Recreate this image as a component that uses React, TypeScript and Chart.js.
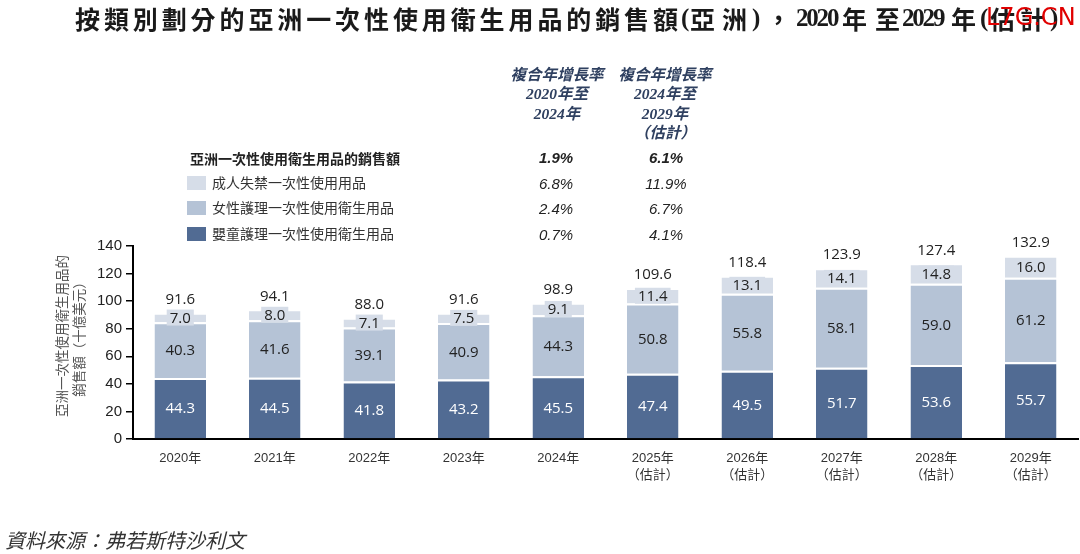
import React, { useEffect, useRef } from "react";
import { Chart, registerables } from "chart.js";

Chart.register(...registerables);

const categories: (string | string[])[] = [
  "2020年", "2021年", "2022年", "2023年", "2024年",
  ["2025年", "（估計）"], ["2026年", "（估計）"], ["2027年", "（估計）"], ["2028年", "（估計）"], ["2029年", "（估計）"],
];
const babyValues = [44.3, 44.5, 41.8, 43.2, 45.5, 47.4, 49.5, 51.7, 53.6, 55.7];
const femaleValues = [40.3, 41.6, 39.1, 40.9, 44.3, 50.8, 55.8, 58.1, 59.0, 61.2];
const adultValues = [7.0, 8.0, 7.1, 7.5, 9.1, 11.4, 13.1, 14.1, 14.8, 16.0];
const totalValues = [91.6, 94.1, 88.0, 91.6, 98.9, 109.6, 118.4, 123.9, 127.4, 132.9];

const seriesNames = ["成人失禁一次性使用用品", "女性護理一次性使用衛生用品", "嬰童護理一次性使用衛生用品"];
const cagr2020to2024 = ["6.8%", "2.4%", "0.7%"];
const cagr2024to2029 = ["11.9%", "6.7%", "4.1%"];
const totalCagr = ["1.9%", "6.1%"];

const C_DARK = "#516b93";
const C_MID = "#b5c3d6";
const C_LIGHT = "#d6dde8";
const legendColors = [C_LIGHT, C_MID, C_DARK];

const labelFont = "'Open Sans', 'Noto Sans', sans-serif";

const labelPlugin = {
  id: "segLabels",
  afterDatasetsDraw(chart: any) {
    const ctx = chart.ctx;
    ctx.save();
    ctx.font = `15px ${labelFont}`;
    ctx.textAlign = "center";
    ctx.textBaseline = "middle";
    chart.data.datasets.forEach((ds: any, di: number) => {
      const meta = chart.getDatasetMeta(di);
      meta.data.forEach((el: any, i: number) => {
        const p = el.getProps(["x", "y", "base"], true);
        const cy = (p.y + p.base) / 2;
        const txt = Number(ds.data[i]).toFixed(1);
        if (di === 2) {
          const w = ctx.measureText(txt).width + 6;
          ctx.fillStyle = C_LIGHT;
          ctx.fillRect(p.x - w / 2, cy - 8, w, 16);
        }
        ctx.fillStyle = di === 0 ? "#ffffff" : "#222222";
        ctx.fillText(txt, p.x, cy + 1);
        if (di === 2) {
          ctx.fillStyle = "#222222";
          ctx.fillText(totalValues[i].toFixed(1), p.x, p.y - 13);
        }
      });
    });
    ctx.restore();
  },
};

const titleCJK = "'Noto Sans CJK TC', sans-serif";
const titleNum = "'Liberation Serif', 'Times New Roman', serif";

function TitlePiece(props: { left: number; text: string; ls?: number; num?: boolean }) {
  return (
    <span style={{
      position: "absolute", left: props.left, top: 3, lineHeight: "30px", fontSize: 25, fontWeight: 700,
      fontFamily: props.num ? titleNum : titleCJK, letterSpacing: props.ls ?? 0, color: "#1a1a1a", whiteSpace: "nowrap",
    }}>{props.text}</span>
  );
}

export default function App() {
  const ref = useRef<HTMLCanvasElement | null>(null);
  useEffect(() => {
    document.body.style.margin = "0";
    if (!ref.current) return;
    const seg = { top: 2, bottom: 0, left: 0, right: 0 };
    const chart = new Chart(ref.current, {
      type: "bar",
      data: {
        labels: categories as any,
        datasets: [
          { label: seriesNames[2], data: babyValues, backgroundColor: C_DARK, borderColor: "#fff", borderWidth: seg, borderSkipped: false } as any,
          { label: seriesNames[1], data: femaleValues, backgroundColor: C_MID, borderColor: "#fff", borderWidth: seg, borderSkipped: false } as any,
          { label: seriesNames[0], data: adultValues, backgroundColor: C_LIGHT, borderColor: "#fff", borderWidth: seg, borderSkipped: false } as any,
        ],
      },
      options: {
        animation: false,
        responsive: false,
        maintainAspectRatio: false,
        layout: { padding: { top: 246, right: 2, left: 0, bottom: 0 } },
        datasets: { bar: { barPercentage: 0.545, categoryPercentage: 1 } },
        plugins: { legend: { display: false }, tooltip: { enabled: false } },
        scales: {
          x: {
            stacked: true,
            grid: { display: false },
            border: { display: true, color: "#000", width: 2 },
            ticks: { font: { size: 13, family: "'Liberation Sans', 'Noto Sans CJK TC', sans-serif", lineHeight: 1.3 }, color: "#333", padding: 3, maxRotation: 0 },
            afterFit: (s: any) => { s.height = 115; },
          },
          y: {
            stacked: true,
            min: 0,
            max: 140,
            ticks: { stepSize: 20, font: { size: 15, family: "'Liberation Sans', Arial, sans-serif" }, color: "#222", padding: 4 },
            grid: { drawOnChartArea: false, drawTicks: true, tickLength: 7, color: "#000", lineWidth: 1.5 },
            border: { color: "#000", width: 2 },
            afterFit: (s: any) => { s.width = 133; },
          },
        },
      },
      plugins: [labelPlugin],
    });
    return () => chart.destroy();
  }, []);

  const headFont = "'Liberation Serif', 'Noto Sans CJK TC', serif";
  const headStyle: React.CSSProperties = {
    position: "absolute", width: 130, textAlign: "center", fontFamily: headFont,
    fontWeight: 700, fontStyle: "italic", fontSize: 15.5, lineHeight: "19.3px", color: "#2f4060",
  };
  const rowTop = [158, 183, 208, 234];
  const pctStyle = (cx: number, y: number, bold: boolean): React.CSSProperties => ({
    position: "absolute", left: cx - 50, width: 100, top: y - 10, lineHeight: "20px", textAlign: "center",
    fontFamily: "'Liberation Sans', Arial, sans-serif", fontStyle: "italic", fontWeight: bold ? 700 : 400,
    fontSize: 15, color: "#222",
  });

  return (
    <div style={{ position: "relative", width: 1080, height: 554, background: "#fff", overflow: "hidden" }}>
      <canvas ref={ref} width={1080} height={554} style={{ position: "absolute", left: 0, top: 0 }} />

      <TitlePiece left={75} text="按類別劃分的亞洲一次性使用衛生用品的銷售額" ls={3.9} />
      <TitlePiece left={681} text="(" num />
      <TitlePiece left={690} text="亞洲" ls={7} />
      <TitlePiece left={752} text=")" num />
      <TitlePiece left={766} text="，" />
      <TitlePiece left={796} text="2020" num ls={-2.2} />
      <TitlePiece left={842} text="年" />
      <TitlePiece left={875} text="至" />
      <TitlePiece left={902} text="2029" num ls={-2.2} />
      <TitlePiece left={951} text="年" />
      <TitlePiece left={980} text="(" num />
      <TitlePiece left={990} text="估計" ls={5} />
      <TitlePiece left={1050} text=")" num />
      <div style={{ position: "absolute", left: 986, top: 2, fontFamily: "'DejaVu Sans', sans-serif", fontWeight: 400, fontSize: 24, lineHeight: "30px", color: "#e00000", whiteSpace: "nowrap" }}>
        L7G.CN
      </div>

      <div style={{ ...headStyle, left: 557 - 65, top: 65 }}>
        <div>複合年增長率</div><div>2020年至</div><div>2024年</div>
      </div>
      <div style={{ ...headStyle, left: 665 - 65, top: 65 }}>
        <div>複合年增長率</div><div>2024年至</div><div>2029年</div><div>（估計）</div>
      </div>

      <div style={{ position: "absolute", left: 190, top: rowTop[0] - 10, lineHeight: "20px", fontFamily: "'Noto Sans CJK TC', sans-serif", fontWeight: 700, fontSize: 14, color: "#222" }}>
        亞洲一次性使用衛生用品的銷售額
      </div>
      <div style={pctStyle(556, rowTop[0], true)}>{totalCagr[0]}</div>
      <div style={pctStyle(666, rowTop[0], true)}>{totalCagr[1]}</div>
      {seriesNames.map((n, i) => (
        <React.Fragment key={n}>
          <div style={{ position: "absolute", left: 187, top: rowTop[i + 1] - 7, width: 19, height: 14, background: legendColors[i] }} />
          <div style={{ position: "absolute", left: 212, top: rowTop[i + 1] - 11, lineHeight: "20px", fontFamily: "'Noto Sans CJK TC', sans-serif", fontSize: 14, color: "#333" }}>{n}</div>
          <div style={pctStyle(556, rowTop[i + 1] + 1, false)}>{cagr2020to2024[i]}</div>
          <div style={pctStyle(666, rowTop[i + 1] + 1, false)}>{cagr2024to2029[i]}</div>
        </React.Fragment>
      ))}

      <div style={{ position: "absolute", left: 71 - 90, top: 336 - 18, width: 180, height: 36, transform: "rotate(-90deg)", transformOrigin: "90px 18px", textAlign: "center", fontFamily: "'Noto Sans CJK TC', sans-serif", fontSize: 13.5, lineHeight: "17px", color: "#555", whiteSpace: "nowrap" }}>
        <div>亞洲一次性使用衛生用品的</div><div>銷售額（十億美元）</div>
      </div>

      <div style={{ position: "absolute", left: 5, top: 527, lineHeight: "26px", fontFamily: "'Noto Sans CJK TC', sans-serif", fontStyle: "italic", fontSize: 20, color: "#333", whiteSpace: "nowrap" }}>
        資料來源：弗若斯特沙利文
      </div>
    </div>
  );
}
